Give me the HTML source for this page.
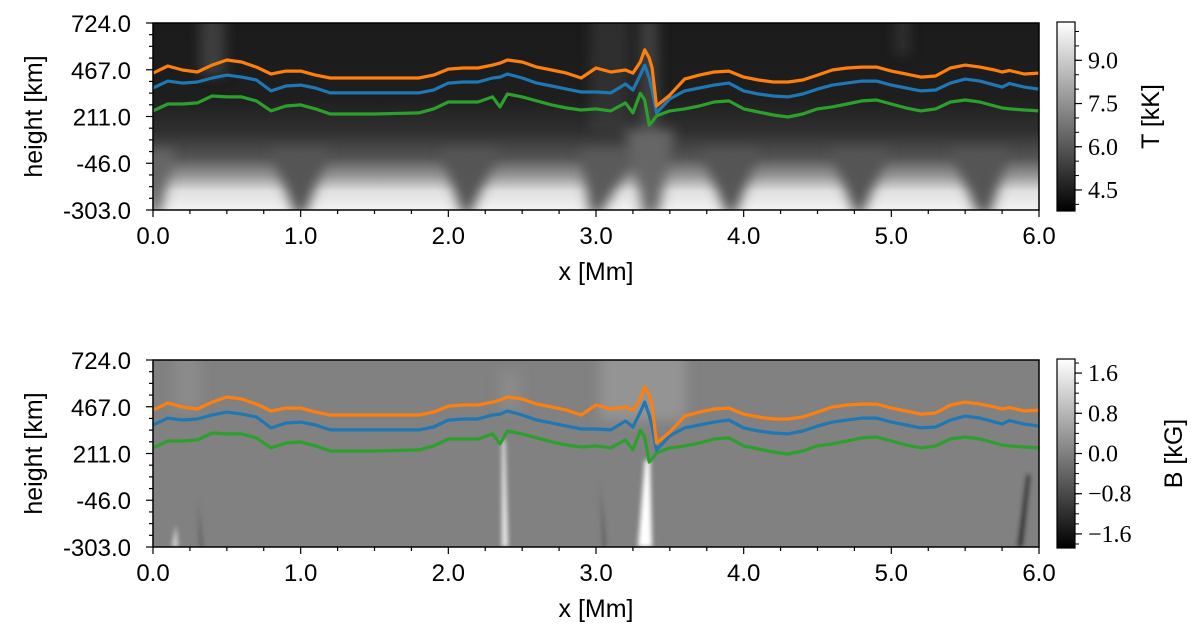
<!DOCTYPE html>
<html><head><meta charset="utf-8">
<style>
html,body{margin:0;padding:0;background:#fff;}
svg{display:block;}
.tk{font-family:"Liberation Sans",sans-serif;font-size:24px;fill:#000;}
.cb{font-family:"Liberation Serif",serif;font-size:24px;fill:#000;}
.lab{font-family:"Liberation Sans",sans-serif;font-size:25px;fill:#000;}
</style></head>
<body>
<svg id="fig" width="1200" height="639" viewBox="0 0 1200 639" xmlns="http://www.w3.org/2000/svg">
<defs>
<linearGradient id="tbg" x1="0" y1="0" x2="0" y2="1">
<stop offset="0" stop-color="#1b1b1b"/><stop offset="0.4" stop-color="#1e1e1e"/>
<stop offset="0.58" stop-color="#303030"/><stop offset="0.72" stop-color="#555"/>
<stop offset="0.82" stop-color="#999"/><stop offset="0.9" stop-color="#e0e0e0"/><stop offset="1" stop-color="#f2f2f2"/>
</linearGradient>
<linearGradient id="cbT" x1="0" y1="1" x2="0" y2="0"><stop offset="0" stop-color="#000"/><stop offset="1" stop-color="#fff"/></linearGradient>
<filter id="bl" filterUnits="userSpaceOnUse" x="0" y="0" width="1200" height="639"><feGaussianBlur stdDeviation="6"/></filter>
<filter id="bl2" filterUnits="userSpaceOnUse" x="0" y="0" width="1200" height="639"><feGaussianBlur stdDeviation="2.5"/></filter>
<clipPath id="c1"><rect x="153" y="23" width="886" height="187"/></clipPath>
<clipPath id="c2"><rect x="153" y="360" width="886" height="187"/></clipPath>
</defs>
<g id="bg1" clip-path="url(#c1)">
<rect x="153" y="23" width="886" height="187" fill="url(#tbg)"/>
<g filter="url(#bl)">
<rect x="200" y="15" width="25" height="60" fill="#555" opacity="0.6"/>
<rect x="590" y="15" width="40" height="120" fill="#444" opacity="0.5"/>
<rect x="640" y="15" width="18" height="200" fill="#666" opacity="0.5"/>
<rect x="895" y="15" width="15" height="40" fill="#444" opacity="0.5"/>
<path d="M270 150 L330 150 L305 215 L295 215 Z" fill="#555"/>
<path d="M440 150 L500 150 L470 215 L462 215 Z" fill="#555"/>
<path d="M580 150 L640 150 L600 215 L590 215 Z" fill="#5a5a5a"/>
<path d="M625 130 L675 130 L658 215 L645 215 Z" fill="#666"/>
<path d="M700 150 L760 150 L735 215 L727 215 Z" fill="#555"/>
<path d="M830 150 L890 150 L862 215 L855 215 Z" fill="#555"/>
<path d="M950 150 L1010 150 L990 215 L978 215 Z" fill="#555"/>
<path d="M140 150 L175 150 L160 215 L150 215 Z" fill="#666"/>
</g>
</g>
<g id="bg2" clip-path="url(#c2)">
<rect x="153" y="360" width="886" height="187" fill="#818181"/>
<g filter="url(#bl)">
<rect x="600" y="350" width="85" height="70" fill="#989898" opacity="0.8"/>
<rect x="175" y="350" width="25" height="60" fill="#939393" opacity="0.6"/>
<rect x="500" y="370" width="20" height="40" fill="#939393" opacity="0.5"/>
</g>
<g filter="url(#bl2)">
<path d="M645 460 L650 460 L652 547 L638 547 Z" fill="#fff"/>
<path d="M502 440 L505 440 L508 547 L502 547 Z" fill="#eee"/>
<path d="M176 525 L178 547 L172 547 Z" fill="#ddd"/>
<path d="M1030 475 L1027 475 L1018 547 L1022 547 Z" fill="#222"/>
<path d="M198 500 L203 547 L200 547 Z" fill="#555"/>
<path d="M600 480 L606 547 L603 547 Z" fill="#555"/>
</g>
</g>
<g id="plots"></g>
</svg>
<script>
const xs=[0,0.1,0.2,0.3,0.4,0.5,0.6,0.7,0.8,0.9,1.0,1.1,1.2,1.5,1.8,1.9,2.0,2.1,2.2,2.3,2.35,2.4,2.5,2.6,2.7,2.8,2.9,3.0,3.1,3.2,3.25,3.3,3.33,3.36,3.38,3.41,3.5,3.6,3.7,3.8,3.9,4.0,4.1,4.2,4.3,4.4,4.5,4.6,4.7,4.8,4.9,5.0,5.1,5.2,5.3,5.4,5.5,5.6,5.7,5.75,5.8,5.9,6.0];
const hOrange=[449,488,466,455,493,521,510,482,444,460,460,438,422,422,422,438,471,477,477,493,504,521,510,482,466,449,422,477,455,466,449,510,576,532,477,268,328,416,438,455,460,427,411,400,400,411,438,466,477,482,482,460,444,427,433,477,493,482,466,455,463,444,449];
const hBlue=[367,405,394,400,422,438,427,411,351,378,383,367,340,340,340,356,394,400,400,422,427,444,422,394,378,361,345,345,340,389,356,438,493,422,356,230,307,351,367,383,394,351,334,323,318,334,361,383,394,405,405,383,367,351,356,394,416,405,383,372,392,372,361];
const hGreen=[241,279,279,285,323,318,318,296,241,268,274,252,224,224,230,252,290,290,290,318,263,334,318,296,274,257,246,252,241,285,230,338,301,164,181,214,241,252,268,290,296,252,235,219,208,224,252,263,279,296,301,279,257,241,252,290,301,290,268,257,252,246,241];
const xTicks=[0,1,2,3,4,5,6];
const yTicks=[-303,-46,211,467,724];
const tTicks=[4.5,6.0,7.5,9.0];
const bTicks=[-1.6,-0.8,0.0,0.8,1.6];
const tRange=[3.77,10.33];
const bRange=[-1.88,1.88];

const NS="http://www.w3.org/2000/svg";
const root=document.getElementById('plots');
function el(tag,attrs,parent){const e=document.createElementNS(NS,tag);for(const k in attrs)e.setAttribute(k,attrs[k]);(parent||root).appendChild(e);return e;}
const X0=153,X1=1039;
const sx=v=>X0+(v-0)/(6-0)*(X1-X0);

function panel(top,bot,cbLab,ticksCb,rng,name,labY){
  const sy=h=>bot-(h-(-303))/(724-(-303))*(bot-top);
  const g=el('g',{});
  
  
  const series=[[hGreen,'#2ca02c','green'],[hBlue,'#1f77b4','blue'],[hOrange,'#ff7f0e','orange']];
  const cg=el('g',{'clip-path':top<300?'url(#c1)':'url(#c2)'},g);
  series.forEach(s=>{
    const d=xs.map((x,i)=>(i?'L':'M')+sx(x).toFixed(1)+' '+sy(s[0][i]).toFixed(1)).join(' ');
    const p=el('path',{d:d,fill:'none',stroke:s[1],'stroke-width':3.2,'stroke-linejoin':'round'},cg);
    
    
  });
  el('rect',{x:X0,y:top,width:X1-X0,height:bot-top,fill:'none',stroke:'#000','stroke-width':1.5},g);
  for(let v=0;v<=6.001;v+=0.25){
    const maj=Math.abs(v-Math.round(v))<1e-6;
    el('line',{x1:sx(v),x2:sx(v),y1:bot,y2:bot+(maj?7:4),stroke:'#000','stroke-width':1.2},g);
  }
  xTicks.forEach(v=>{
    const t=el('text',{x:sx(v),y:bot+34,'text-anchor':'middle',class:'tk'},g);
    t.textContent=v.toFixed(1);
    
    
  });
  const step=(724+303)/16;
  for(let i=0;i<=16;i++){
    const h=-303+i*step, maj=i%4===0;
    el('line',{x1:X0,x2:X0-(maj?7:4),y1:sy(h),y2:sy(h),stroke:'#000','stroke-width':1.2},g);
  }
  yTicks.forEach(v=>{
    const t=el('text',{x:X0-22,y:sy(v)+9,'text-anchor':'end',class:'tk'},g);
    t.textContent=v.toFixed(1);
    
    
  });
  const xl=el('text',{x:(X0+X1)/2,y:bot+70,'text-anchor':'middle',class:'lab'},g);
  xl.textContent='x [Mm]';
  
  
  const yl=el('text',{x:0,y:0,'text-anchor':'middle',class:'lab',transform:`translate(42,${(top+bot)/2}) rotate(-90)`},g);
  yl.textContent='height [km]';
  
  
  const cx=1057,cw=18,ct=top-1,cbt=bot+1;
  const cr=el('rect',{x:cx,y:ct,width:cw,height:cbt-ct,fill:'url(#cbT)',stroke:'#000','stroke-width':1.2},g);
  
  
  const cy=v=>cbt-(v-rng[0])/(rng[1]-rng[0])*(cbt-ct);
  const mstep=(ticksCb[1]-ticksCb[0])/ (name==='temperature'?3:4);
  for(let v=ticksCb[0]-4*mstep;v<=rng[1];v+=mstep){
    if(v<rng[0])continue;
    el('line',{x1:cx+cw,x2:cx+cw+4,y1:cy(v),y2:cy(v),stroke:'#000','stroke-width':1},g);
  }
  ticksCb.forEach(v=>{
    el('line',{x1:cx+cw,x2:cx+cw+7,y1:cy(v),y2:cy(v),stroke:'#000','stroke-width':1.2},g);
    const t=el('text',{x:cx+cw+13,y:cy(v)+8,class:'cb'},g);
    t.textContent=(v<0?'\u2212':'')+Math.abs(v).toFixed(1);
    
    
  });
  const cl=el('text',{x:0,y:0,'text-anchor':'middle',class:'lab',transform:`translate(${labY},${(top+bot)/2}) rotate(-90)`},g);
  cl.textContent=cbLab;
  
  
}
panel(23,210,'T [kK]',tTicks,tRange,'temperature',1159);
panel(360,547,'B [kG]',bTicks,bRange,'magnetic-field',1182);
</script>
</body></html>
